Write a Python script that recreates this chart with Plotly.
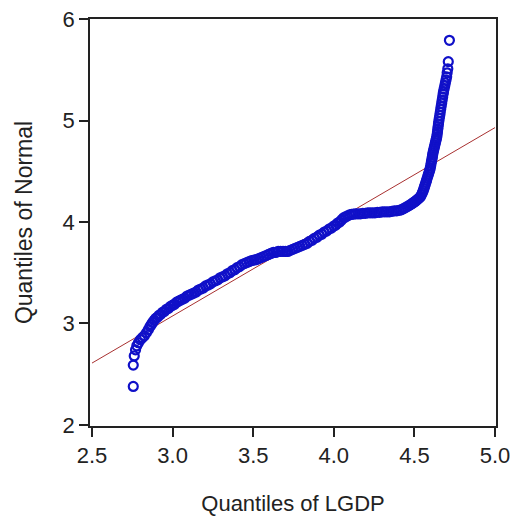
import plotly.graph_objects as go

# Sorted quantile pairs (LGDP quantiles on x, Normal quantiles on y)
lgdp_q = [
    2.756, 2.756, 2.762, 2.770, 2.778, 2.788, 2.800, 2.812, 2.825, 2.838, 2.850,
    2.860, 2.868, 2.876, 2.885, 2.895, 2.905, 2.915, 2.926, 2.938, 2.950,
    2.962, 2.975, 2.988, 3.000, 3.012, 3.025, 3.038, 3.050, 3.063, 3.076,
    3.090, 3.104, 3.118, 3.132, 3.146, 3.160, 3.175, 3.190, 3.205, 3.220,
    3.235, 3.250, 3.265, 3.280, 3.295, 3.310, 3.325, 3.340, 3.355, 3.370,
    3.385, 3.400, 3.415, 3.430, 3.445, 3.460,
    3.475, 3.490, 3.505, 3.520, 3.535, 3.550, 3.565, 3.580, 3.595, 3.610,
    3.625, 3.640, 3.655, 3.670, 3.685, 3.700, 3.715, 3.730, 3.745, 3.760,
    3.775, 3.790, 3.805, 3.820, 3.835, 3.850, 3.865, 3.880, 3.895, 3.910,
    3.925, 3.940, 3.955, 3.970, 3.985, 4.000, 4.012, 4.024, 4.036, 4.048,
    4.060, 4.072, 4.085, 4.098,
    4.110, 4.122, 4.135, 4.150, 4.165, 4.180, 4.195, 4.210, 4.225, 4.240,
    4.255, 4.270, 4.285, 4.300, 4.315, 4.330, 4.345, 4.360, 4.375, 4.390,
    4.405, 4.418, 4.430, 4.442, 4.453, 4.464, 4.474, 4.484, 4.493, 4.502,
    4.510, 4.518, 4.525, 4.532, 4.538, 4.544,
    4.550, 4.555, 4.559, 4.563, 4.567, 4.571, 4.575, 4.579, 4.583, 4.587,
    4.591, 4.595, 4.598, 4.601, 4.604, 4.606, 4.609, 4.611, 4.613, 4.615,
    4.618, 4.621, 4.624, 4.627, 4.630, 4.633, 4.636, 4.639, 4.641, 4.643,
    4.645, 4.647, 4.649, 4.651, 4.654, 4.657, 4.660, 4.663, 4.666, 4.669,
    4.672, 4.675, 4.678, 4.680,
    4.684, 4.688, 4.692, 4.696, 4.700, 4.703, 4.707, 4.710, 4.717,
]

normal_q = [
    2.38, 2.59, 2.68, 2.74, 2.78, 2.81, 2.84, 2.86, 2.88, 2.91, 2.94,
    2.97, 2.99, 3.01, 3.03, 3.05, 3.06, 3.08, 3.09, 3.11, 3.12,
    3.14, 3.15, 3.17, 3.18, 3.19, 3.21, 3.22, 3.23, 3.24, 3.25,
    3.27, 3.28, 3.29, 3.30, 3.31, 3.33, 3.34, 3.35, 3.37, 3.38,
    3.39, 3.41, 3.42, 3.43, 3.45, 3.46, 3.47, 3.49, 3.50, 3.52,
    3.53, 3.55, 3.56, 3.58, 3.59, 3.60,
    3.61, 3.62, 3.625, 3.63, 3.64, 3.65, 3.66, 3.67, 3.68, 3.69,
    3.70, 3.70, 3.71, 3.71, 3.71, 3.71, 3.71, 3.72, 3.73, 3.74,
    3.75, 3.76, 3.77, 3.78, 3.79, 3.81, 3.82, 3.84, 3.85, 3.87,
    3.88, 3.90, 3.91, 3.93, 3.94, 3.96, 3.97, 3.99, 4.00, 4.02,
    4.04, 4.05, 4.06, 4.07,
    4.075, 4.078, 4.08, 4.08, 4.08, 4.085, 4.085, 4.09, 4.09, 4.09,
    4.09, 4.095, 4.095, 4.10, 4.10, 4.10, 4.10, 4.105, 4.11, 4.11,
    4.115, 4.12, 4.13, 4.14, 4.15, 4.16, 4.17, 4.18, 4.19, 4.20,
    4.21, 4.22, 4.23, 4.24, 4.25, 4.27,
    4.29, 4.31, 4.33, 4.35, 4.37, 4.39, 4.41, 4.43, 4.45, 4.47,
    4.49, 4.51, 4.53, 4.555, 4.58, 4.60, 4.62, 4.64, 4.66, 4.68,
    4.70, 4.72, 4.74, 4.76, 4.78, 4.80, 4.82, 4.84, 4.865, 4.89,
    4.915, 4.94, 4.965, 4.99, 5.02, 5.05, 5.08, 5.11, 5.14, 5.17,
    5.20, 5.23, 5.26, 5.28,
    5.31, 5.34, 5.37, 5.40, 5.43, 5.47, 5.51, 5.58, 5.79,
]

# Reference line endpoints
ref_x = [2.5, 5.0]
ref_y = [2.61, 4.93]

x_ticks = [2.5, 3.0, 3.5, 4.0, 4.5, 5.0]
x_tick_labels = ["2.5", "3.0", "3.5", "4.0", "4.5", "5.0"]
y_ticks = [2, 3, 4, 5, 6]
y_tick_labels = ["2", "3", "4", "5", "6"]

FONT = "Liberation Sans, Arial, sans-serif"
INK = "#222222"

fig = go.Figure()
fig.add_trace(go.Scatter(
    x=ref_x, y=ref_y, mode="lines",
    line=dict(color="#A83030", width=1),
    hoverinfo="skip", showlegend=False,
))
fig.add_trace(go.Scatter(
    x=lgdp_q, y=normal_q, mode="markers",
    marker=dict(symbol="circle-open", size=9, color="#1010C8",
                line=dict(width=2.2, color="#1010C8")),
    showlegend=False,
))

axis_common = dict(
    showgrid=False, zeroline=False, automargin=False,
    showline=True, mirror=True, linecolor=INK, linewidth=1.5,
    ticks="outside", ticklen=9, tickwidth=1.5, tickcolor=INK,
    tickfont=dict(family=FONT, size=22, color=INK),
)

fig.update_layout(
    width=517, height=519,
    margin=dict(l=90, r=21, t=19, b=93),
    paper_bgcolor="white", plot_bgcolor="white",
    xaxis=dict(
        range=[2.4876, 5.006],
        tickvals=x_ticks, ticktext=x_tick_labels,
        title=dict(text="Quantiles of LGDP", font=dict(family=FONT, size=22, color=INK), standoff=28),
        **axis_common,
    ),
    yaxis=dict(
        range=[1.99, 6.0],
        tickvals=y_ticks, ticktext=y_tick_labels,
        title=dict(text="Quantiles of Normal", font=dict(family=FONT, size=23, color=INK), standoff=24),
        **axis_common,
    ),
)

fig.write_html(
    "out.html",
    config={"displayModeBar": False},
    post_script="document.body.style.margin='0';document.body.style.overflow='hidden';",
)
